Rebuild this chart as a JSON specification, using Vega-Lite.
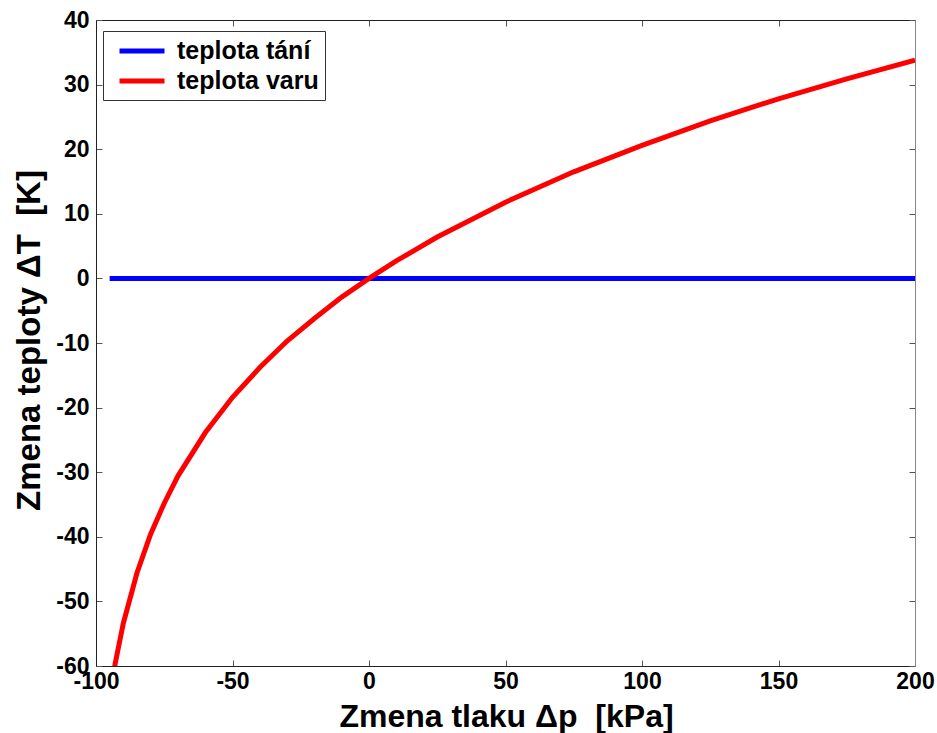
{
  "$schema": "https://vega.github.io/schema/vega-lite/v6.json",
  "width": 819,
  "height": 646,
  "autosize": {"type": "none"},
  "padding": {"left": 96, "top": 20, "right": 22, "bottom": 67},
  "background": "white",
  "config": {
    "font": "Liberation Sans",
    "view": {"stroke": "#222", "strokeWidth": 1},
    "axis": {
      "grid": false,
      "domainColor": "#222",
      "tickColor": "#555",
      "tickSize": -6,
      "labelFont": "Liberation Sans",
      "labelFontWeight": "bold",
      "labelFontSize": 23,
      "labelColor": "black",
      "labelExpr": "replace(datum.label, '−', '-')",
      "titleFont": "Liberation Sans",
      "titleFontWeight": "bold",
      "titleFontSize": 33,
      "titleColor": "black"
    }
  },
  "data": {
    "values": [
      {"serie": "teplota tání", "dp": -95, "dT": 0},
      {"serie": "teplota tání", "dp": 200, "dT": 0},
      {"serie": "teplota varu", "dp": -95, "dT": -65.1},
      {"serie": "teplota varu", "dp": -93, "dT": -59.7},
      {"serie": "teplota varu", "dp": -90, "dT": -53.4},
      {"serie": "teplota varu", "dp": -85, "dT": -45.6},
      {"serie": "teplota varu", "dp": -80, "dT": -39.6},
      {"serie": "teplota varu", "dp": -75, "dT": -34.8},
      {"serie": "teplota varu", "dp": -70, "dT": -30.6},
      {"serie": "teplota varu", "dp": -60, "dT": -23.9},
      {"serie": "teplota varu", "dp": -50, "dT": -18.4},
      {"serie": "teplota varu", "dp": -40, "dT": -13.8},
      {"serie": "teplota varu", "dp": -30, "dT": -9.7},
      {"serie": "teplota varu", "dp": -20, "dT": -6.2},
      {"serie": "teplota varu", "dp": -10, "dT": -2.9},
      {"serie": "teplota varu", "dp": 0, "dT": 0},
      {"serie": "teplota varu", "dp": 10, "dT": 2.7},
      {"serie": "teplota varu", "dp": 25, "dT": 6.4},
      {"serie": "teplota varu", "dp": 50, "dT": 11.8},
      {"serie": "teplota varu", "dp": 75, "dT": 16.5},
      {"serie": "teplota varu", "dp": 100, "dT": 20.6},
      {"serie": "teplota varu", "dp": 125, "dT": 24.4},
      {"serie": "teplota varu", "dp": 150, "dT": 27.8},
      {"serie": "teplota varu", "dp": 175, "dT": 30.9},
      {"serie": "teplota varu", "dp": 200, "dT": 33.8}
    ]
  },
  "layer": [
    {
      "transform": [{"filter": "datum.serie === 'teplota tání'"}],
      "mark": {"type": "line", "strokeWidth": 5, "clip": true},
      "encoding": {
        "x": {
          "field": "dp", "type": "quantitative",
          "scale": {"domain": [-100, 200], "nice": false, "zero": false},
          "axis": {"orient": "bottom", "values": [-100, -50, 0, 50, 100, 150, 200], "labelPadding": 10, "title": "Zmena tlaku Δp \u00a0[kPa]", "titleFontSize": 32, "titleX": 410, "titleY": 60, "titleBaseline": "alphabetic", "labelFlush": false}
        },
        "y": {
          "field": "dT", "type": "quantitative",
          "scale": {"domain": [-60, 40], "nice": false, "zero": false},
          "axis": {"orient": "left", "values": [-60, -50, -40, -30, -20, -10, 0, 10, 20, 30, 40], "labelPadding": 13, "title": "Zmena teploty ΔT \u00a0[K]", "titleAngle": -90, "titleX": -57, "titleY": 320, "titleBaseline": "alphabetic", "titleAlign": "center"}
        },
        "color": {
          "field": "serie", "type": "nominal",
          "scale": {"domain": ["teplota tání", "teplota varu"], "range": ["#0000ff", "#ff0000"]},
          "legend": {
            "orient": "none", "legendX": 7, "legendY": 11, "title": null,
            "symbolType": "M-2,0H2", "symbolSize": 506, "symbolStrokeWidth": 5, "symbolOffset": 19,
            "labelOffset": 21, "labelFontSize": 25, "labelFontWeight": "bold", "labelFont": "Liberation Sans", "labelColor": "black",
            "strokeColor": "#333", "fillColor": "white", "padding": 6, "rowPadding": 3
          }
        }
      }
    },
    {
      "transform": [{"filter": "datum.serie === 'teplota varu'"}],
      "mark": {"type": "line", "strokeWidth": 5, "clip": true},
      "encoding": {
        "x": {
          "field": "dp", "type": "quantitative",
          "scale": {"domain": [-100, 200], "nice": false, "zero": false},
          "axis": {"orient": "top", "values": [-100, -50, 0, 50, 100, 150, 200], "labels": false, "title": null}
        },
        "y": {
          "field": "dT", "type": "quantitative",
          "scale": {"domain": [-60, 40], "nice": false, "zero": false},
          "axis": {"orient": "right", "values": [-60, -50, -40, -30, -20, -10, 0, 10, 20, 30, 40], "labels": false, "title": null, "domainColor": "#888"}
        },
        "color": {
          "field": "serie", "type": "nominal",
          "scale": {"domain": ["teplota tání", "teplota varu"], "range": ["#0000ff", "#ff0000"]}
        }
      }
    }
  ],
  "resolve": {"axis": {"x": "independent", "y": "independent"}}
}
